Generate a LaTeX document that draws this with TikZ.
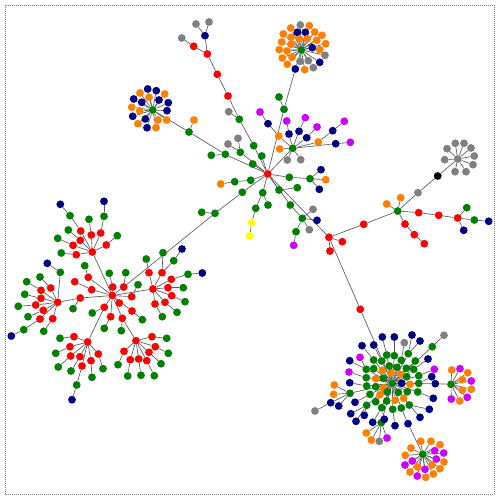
\documentclass[tikz,border=0pt]{standalone}
\usetikzlibrary{backgrounds}
\definecolor{cR}{RGB}{255,0,0}
\definecolor{cG}{RGB}{0,128,0}
\definecolor{cB}{RGB}{0,0,128}
\definecolor{cO}{RGB}{255,128,0}
\definecolor{cA}{RGB}{128,128,128}
\definecolor{cV}{RGB}{204,0,255}
\definecolor{cY}{RGB}{255,255,0}
\definecolor{cK}{RGB}{0,0,0}
\begin{document}
\begin{tikzpicture}[x=1pt,y=-1pt,
  v/.style={circle,inner sep=0pt,minimum size=7.8pt,draw=none},
  edge/.style={draw=black!65,line width=0.65pt}]
\useasboundingbox (0,0) rectangle (500,500);
\draw[cA,line width=0.6pt,dash pattern=on 1pt off 1pt] (5,5) rectangle (494,494);
% top-left star
\foreach \n/\x/\y/\c in {a0/152.7/110/cG,
 a1/147.7/89/cB, a2/156.3/90.7/cB, a3/140/93/cO, a4/164.7/94/cO, a5/133.7/99/cB, a6/149/97.3/cO, a7/159/100/cB, a8/168.3/102.7/cB, a9/141.7/102.3/cB, a10/131.7/107.3/cO, a11/139.7/111/cO, a12/167/110.7/cB, a13/132.7/116.3/cB, a14/145.3/119/cB, a15/158/120/cO, a16/166.7/120/cO, a17/138/123.7/cO, a18/147/127.7/cB, a19/156/127.7/cO,
 t1/189/132/cG, t2/194/120/cO, t3/225.3/154.3/cG, t4/211.3/155.3/cG,
 H/267.7/174/cR,
 c1/196/24/cA, c2/209/22/cA, c3/205/35.7/cB, c4/181.7/38/cA, c5/193.7/46.3/cR, c6/207.3/54/cR, c7/217.3/74.3/cR, c8/228/96/cR, c9/228.7/111.7/cA, c10/239.3/119.3/cG, c11/253.7/145.7/cG, c12/261.7/156/cG, c13/252.7/164/cG, c14/238/138.3/cA, c15/228/144/cA, c16/240.3/152.3/cG,
 o0/301.3/50/cG,
 o1/300.3/25/cA, o2/290.7/28/cO, o3/309.3/25.7/cO, o4/283.3/34/cO, o5/297.3/32.3/cB, o6/305.3/32.3/cB, o7/314.7/32/cO, o8/322/35.3/cO, o9/291/37.3/cO, o10/299.3/39/cO, o11/307.3/38.7/cO, o12/316.7/40.3/cO, o13/325.7/43.7/cO, o14/281.7/42/cO, o15/291/44.3/cO, o16/312.3/47.7/cB, o17/279.3/49.7/cO, o18/287/51/cO, o19/319.7/49.7/cO, o20/325/55.3/cA, o21/282.3/58/cO, o22/292/57.3/cO, o23/300/61.3/cA, o24/308.3/60.7/cA, o25/319.7/62.3/cB, o26/287.3/64.3/cO, o27/313.3/67.7/cA, o28/295.3/69/cB, o29/304.7/69.7/cO,
 p1/284/109.3/cG, p2/279/97/cG,
 u0/292.7/148.3/cG,
 u1/260/112/cV, u2/268/123.7/cB, u3/278.7/136/cO, u4/286.7/121/cV, u5/289/134/cB, u6/305.3/117.7/cV, u7/299/131.3/cB, u8/317/127/cV, u9/306.7/137.7/cB, u10/279.7/149/cO, u11/318.3/142/cO, u12/287.3/160/cA, u13/300.7/159.7/cA, u14/332.7/130.7/cB, u15/344.3/121.3/cV, u16/335.7/143.7/cB, u17/350.3/142.3/cV,
 h1/250.7/180.3/cG, h2/234.7/181.7/cG, h3/220.7/184/cO, h4/242.3/192.3/cG, h5/215/213.3/cG, h6/201.7/212.3/cG, h7/262.7/192.7/cG, h8/255.7/208.3/cG, h9/251.7/222.7/cY, h10/249.7/236/cY, h11/268/205/cG, h12/289.3/177.3/cG, h13/310/178.7/cG, h14/321/169.7/cB, h15/325.7/179.7/cO, h16/319.3/189.3/cB, h17/279/190/cG, h18/297.3/187.7/cG, h19/290.3/205/cG, h20/302.3/218.3/cG, h21/313/209.3/cA, h22/317/220.3/cB, h23/309.3/229.7/cA, h24/296/231.7/cG, h25/293.7/245.3/cV,
 r1/329/237.3/cR, r2/342.3/241.7/cR, r3/330/251/cR, r4/363.7/224.3/cR, r5/397.7/211/cG, r6/386.7/204/cO, r7/400.7/197.7/cO, r8/418/192.7/cA, r9/437.7/176/cK, r10/418.7/212.7/cR, r11/438.7/215.3/cR, r12/457.7/218/cR, r13/466.7/207.7/cG, r14/474.3/220/cG, r15/488.7/221.3/cB, r16/463.7/230.3/cB, r17/405/224/cR, r18/414.3/234.7/cR, r19/424.3/243.7/cR, r20/360.3/309.3/cR,
 g0/457.7/159/cA, g1/447/148.7/cA, g2/455.3/143.3/cA, g3/464/143.3/cA, g4/471/148/cA, g5/474.3/156/cA, g6/444.7/159.7/cA, g7/473/164.7/cA, g8/455/171.7/cA, g9/466/171.7/cA}
 \node[v,fill=\c] (\n) at (\x,\y) {};
% bottom-right cluster
\foreach \n/\x/\y/\c in {b0/392.3/383.3/cG,
 b1/382.3/370.3/cO, b2/391/372.7/cO, b3/400.7/374.3/cO, b4/375.7/378.7/cO, b5/383.3/387.7/cO, b6/401.7/383.3/cB, b7/410/384.3/cO, b8/380/394.7/cO, b9/395/400.3/cO, b10/403.7/398.3/cO,
 b11/389.3/366/cG, b12/397/367.3/cG, b13/383.3/378.3/cG, b14/387.3/392/cG, b15/398.3/392.3/cG, b16/406.3/368.3/cG, b17/373.7/368.7/cG, b18/406.7/376.7/cG, b19/375.7/386.7/cG, b20/407.3/391.7/cG, b21/386.7/401/cG, b22/375.7/401.7/cG, b23/409.3/405/cG, b24/381.7/361/cG, b25/401.3/360.3/cG, b26/394.3/355.7/cG, b27/386.7/355/cG, b28/366.3/369.3/cG, b29/413.7/369.3/cG, b30/366.3/377.7/cG, b31/418.7/375.7/cG, b32/366.7/386/cG, b33/418.7/383.3/cG, b34/370/394.3/cG, b35/417.7/392/cG, b36/366.7/405.3/cG, b37/381.7/407.7/cG, b38/392.7/409.3/cG, b39/401.3/408/cG, b40/373.7/360/cG, b41/408.3/353.7/cG, b42/415.3/361/cG, b43/432.3/346.7/cG, b44/350/393.3/cG, b45/381.3/422.7/cG, b46/435.3/383.7/cB,
 b50/382.3/337/cB, b51/394.3/337/cB, b52/412/335/cB, b53/420/341/cB, b54/404.3/342.7/cA, b55/444/335.3/cA, b56/362/345.7/cB, b57/373.7/345/cB, b58/360/357.3/cV, b59/349.7/360.7/cB, b60/428/359/cB, b61/434.3/369.3/cV, b62/349/372/cV, b63/431.7/376.7/cB, b64/349.7/382.7/cB, b65/433.3/398.3/cB, b66/355/402.3/cB, b67/429.3/409.3/cB, b68/350.7/413.7/cB, b69/364.3/415.3/cB, b70/356/421.3/cB, b71/372.7/422.3/cB, b72/420/417.3/cB, b73/384.3/419.3/cB, b74/395/425.7/cB, b75/408/423.7/cB,
 b80/334.3/385/cO, b81/333.7/394.3/cO, b82/330.7/402.7/cB, b83/338.7/406/cB, b84/315/411/cA,
 b85/366.3/433/cO, b86/371.3/440/cO, b87/379.3/441.3/cA, b88/387/438/cV,
 w0/451/384.3/cG, w1/451.7/370/cO, w2/460/368.7/cV, w3/467.7/372.7/cO, w4/462.3/379.7/cO, w5/471.3/381/cV, w6/471.3/389.3/cO, w7/462.3/390.3/cO, w8/467.3/397.3/cV, w9/459.7/401/cO, w10/451.3/399/cV,
 z0/422.7/454.3/cG, z1/420.7/441.3/cO, z2/431/441.3/cO, z3/440/444.7/cO, z4/411/448/cO, z5/434.7/450.7/cV, z6/443.7/453/cV, z7/405.3/455.3/cO, z8/412.3/461/cV, z9/436.3/459/cV, z10/444/462/cO, z11/405/465/cV, z12/417.7/467/cO, z13/425/469.3/cV, z14/432/465/cO, z15/440/468.7/cO, z16/410/472/cO, z17/417.3/476/cV, z18/425.7/477.3/cO, z19/433.3/474/cO}
 \node[v,fill=\c] (\n) at (\x,\y) {};
% left cluster
\foreach \n/\x/\y/\c in {L0/112.3/295.5/cR,
 L1/123.7/287/cR, L2/125.7/272.7/cG, L3/112.7/287/cR, L4/109.3/273.3/cG, L5/131.7/296.7/cR, L6/138/284.7/cG, L7/119.3/303/cR, L8/104.3/307.3/cR, L9/110.7/316.7/cR, L10/122.3/318.3/cR, L11/132/311/cR, L12/142.3/319.7/cG, L13/104.3/328.3/cG, L14/121.3/330.7/cG, L15/88.3/277.3/cR, L16/84.7/265.7/cG, L17/91.7/289.7/cR, L18/74.7/281.7/cR, L19/80.3/298/cR, L20/73/308.7/cG, L21/92.3/313/cG,
 T0/92.3/252/cR, T1/80.7/231/cR, T2/70/215.7/cG, T3/60.3/204.3/cB, T4/91.3/235/cR, T5/89/219.3/cG, T6/100.7/233/cR, T7/104/216.3/cG, T8/104/201.3/cB, T9/106.3/245/cR, T10/117.3/235.7/cG, T11/80.3/240.3/cR, T12/68.3/230/cG, T13/73/245.3/cR, T14/57.7/238.3/cG, T15/76.3/254.7/cR, T16/61.3/253/cG,
 S0/57.7/302.3/cR, S1/50.7/288/cR, S2/40/277/cG, S3/41/290.3/cR, S4/26.7/281.7/cG, S5/41/298.3/cR, S6/24.7/294.3/cG, S7/35.7/305/cR, S8/18.3/306.3/cG, S9/43.3/310.3/cR, S10/28/316.7/cG, S11/40/319/cR, S12/23.7/329.7/cG, S13/11.3/336/cB, S14/52.7/318.7/cR, S15/43.7/331.3/cG, S16/60.3/272.3/cG, S17/47.3/263.3/cB,
 P0/87.7/342/cR, P1/74/336.7/cR, P2/60/338.3/cG, P3/70/346.7/cR, P4/55.7/353.3/cG, P5/70.7/356/cR, P6/58.3/367/cG, P7/80/356.7/cR, P8/71/371/cG, P9/82/366/cR, P10/76.7/385/cG, P11/72/399.7/cB, P12/91/360.7/cR, P13/92/377.3/cG, P14/98.3/354/cR, P15/103/368.7/cG,
 Q0/136/340.7/cR, Q1/152/336.7/cR, Q2/166.7/338.3/cG, Q3/155.3/346.7/cR, Q4/168.3/353.3/cG, Q5/124/351.3/cR, Q6/118/364.7/cG, Q7/130.3/359.7/cR, Q8/127.7/376/cG, Q9/138.7/359/cR, Q10/141/375.3/cG, Q11/146.7/360.7/cR, Q12/154.3/375.7/cG, Q13/149/352.3/cR, Q14/161/363.7/cG,
 K0/153/289/cR, K1/149/272.7/cR, K2/146.3/259/cG, K3/162/272.7/cR, K4/173.7/260.7/cG, K5/182/249/cB, K6/163/252.7/cG, K7/171.3/279.3/cR, K8/188/274.3/cG, K9/202.3/273/cB, K10/168/287.7/cR, K11/183.3/287.7/cG, K12/171.7/295.7/cR, K13/185/301.7/cG, K14/165/302.3/cR, K15/177/312.3/cG, K16/155/304/cR, K17/162.3/316.7/cG}
 \node[v,fill=\c] (\n) at (\x,\y) {};
\begin{scope}[on background layer]
\foreach \i in {1,...,19} \draw[edge] (a0) -- (a\i);
\foreach \i in {1,...,29} \draw[edge] (o0) -- (o\i);
\foreach \i in {1,...,9} \draw[edge] (g0) -- (g\i);
\foreach \i in {1,...,10} \draw[edge] (w0) -- (w\i);
\foreach \i in {1,...,19} \draw[edge] (z0) -- (z\i);
\foreach \i in {1,...,46} \draw[edge] (b0) -- (b\i);
\foreach \p/\q in {a0/t1, t1/t2, t1/t3, t3/t4, t3/H,
 c1/c3, c2/c3, c3/c6, c4/c5, c5/c6, c6/c7, c7/c8, c8/c10, c9/c10, c10/c11, c11/H, c12/H, c13/H, c14/c16, c15/c16, c16/H,
 o28/p1, p2/p1, p1/H,
 u1/u2, u2/u3, u3/u0, u4/u5, u5/u0, u6/u7, u7/u0, u8/u9, u9/u0, u10/u0, u15/u14, u14/u11, u11/u0, u12/u0, u13/u0, u17/u16, u16/u0, u0/H,
 H/h1, h1/h2, h2/h3, H/h4, h4/h5, h5/h6, h5/L1, H/h7, h7/h8, h8/h9, h9/h10, h7/h11, H/h12, h12/h13, h13/h14, h13/h15, h13/h16, H/h17, h17/h18, H/h19, h19/h20, h20/h21, h20/h22, h20/h23, h20/h24, h24/h25, H/r1,
 r1/r2, r1/r3, r1/r4, r4/r5, r5/r6, r5/r7, r5/r8, r8/r9, r9/g0, r5/r10, r10/r11, r11/r12, r12/r13, r12/r14, r14/r15, r12/r16, r5/r17, r17/r18, r18/r19, r1/r20, r20/b0,
 b50/b27, b51/b26, b52/b41, b53/b41, b54/b25, b55/b43, b56/b40, b57/b24, b58/b28, b59/b28, b60/b29, b61/b31, b62/b30, b63/b33, b64/b32, b65/b35, b66/b34, b67/b23, b68/b36, b69/b36, b70/b36, b71/b37, b72/b23, b73/b37, b74/b38, b75/b39,
 b80/b44, b81/b44, b82/b44, b83/b44, b84/b82, b85/b45, b86/b45, b87/b45, b88/b45, w0/b46, z0/b75,
 L0/L1, L1/L2, L0/L3, L3/L4, L0/L5, L5/L6, L0/L7, L0/L8, L0/L9, L0/L10, L0/L11, L11/L12, L9/L13, L10/L14, L0/L15, L15/L16, L0/L17, L17/L18, L0/L19, L19/L20, L8/L21,
 T0/L0, T0/T1, T1/T2, T2/T3, T0/T4, T4/T5, T0/T6, T6/T7, T7/T8, T0/T9, T9/T10, T0/T11, T11/T12, T0/T13, T13/T14, T0/T15, T15/T16,
 S0/L19, S0/S1, S1/S2, S0/S3, S3/S4, S0/S5, S5/S6, S0/S7, S7/S8, S0/S9, S9/S10, S0/S11, S11/S12, S12/S13, S0/S14, S14/S15, S0/S16, S16/S17,
 P0/L8, P0/P1, P1/P2, P0/P3, P3/P4, P0/P5, P5/P6, P0/P7, P7/P8, P0/P9, P9/P10, P10/P11, P0/P12, P12/P13, P0/P14, P14/P15,
 Q0/L10, Q0/Q1, Q1/Q2, Q0/Q3, Q3/Q4, Q0/Q5, Q5/Q6, Q0/Q7, Q7/Q8, Q0/Q9, Q9/Q10, Q0/Q11, Q11/Q12, Q0/Q13, Q13/Q14,
 K0/L0, K0/K1, K1/K2, K0/K3, K3/K4, K4/K5, K6/K3, K0/K7, K7/K8, K8/K9, K0/K10, K10/K11, K0/K12, K12/K13, K0/K14, K14/K15, K0/K16, K16/K17}
 \draw[edge] (\p) -- (\q);
\end{scope}
\end{tikzpicture}
\end{document}
